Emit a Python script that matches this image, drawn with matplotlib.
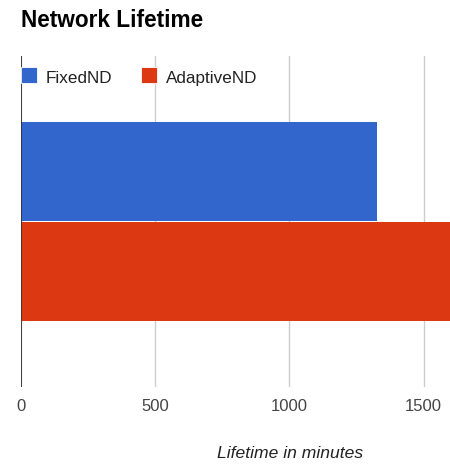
import matplotlib.pyplot as plt
from matplotlib.patches import Rectangle

series = ["FixedND", "AdaptiveND"]
lifetime = [1325, 1680]
colors = ["#3366CC", "#DC3912"]
xticks = [0, 500, 1000, 1500]

W, H = 450, 469
fig = plt.figure(figsize=(W / 100, H / 100), dpi=100)
plt.rcParams["font.family"] = ["Liberation Sans", "DejaVu Sans"]


def fx(px):
    return px / W


def fy(py):
    return 1 - py / H


ax = fig.add_axes([fx(21), fy(387), fx(W - 21), fy(56) - fy(387)])

# one category, two series stacked vertically within the band
ypos = [0.5, -0.5]
for y, val, c in zip(ypos, lifetime, colors):
    ax.barh(y, val, height=0.99, color=c, zorder=3)

ax.set_xlim(0, 1598)
ax.set_ylim(-1.655, 1.655)
ax.set_xticks(xticks)
ax.set_xticklabels([str(t) for t in xticks])
ax.set_yticks([])
ax.tick_params(axis="x", length=0, pad=8.5, labelsize=12, labelcolor="#444444")
ax.grid(True, axis="x", color="#cccccc", linewidth=1, zorder=0)
ax.axvline(0, color="#333333", linewidth=1.3, zorder=4)
for s in ax.spines.values():
    s.set_visible(False)

fig.text(fx(21), fy(26.7), "Network Lifetime", fontsize=16.3, fontweight="bold",
         color="#000000", va="baseline", ha="left")

# legend row across the top of the plot area
for name, c, sx, tx in zip(series, colors, [21, 141], [46, 166]):
    fig.patches.append(Rectangle((fx(sx), fy(83)), fx(16), fy(67) - fy(83),
                                 transform=fig.transFigure, facecolor=c,
                                 edgecolor="white", linewidth=0.6, zorder=5))
    t = fig.text(fx(tx), fy(82.5), name, fontsize=12.3, color="#222222",
                 va="baseline", ha="left", zorder=6)
    t.set_bbox(dict(facecolor="white", edgecolor="none", pad=1))

fig.text(fx(290.5), fy(458), "Lifetime in minutes", fontsize=12.6, style="italic",
         color="#222222", va="baseline", ha="center")

fig.savefig("out.png", dpi=100)
